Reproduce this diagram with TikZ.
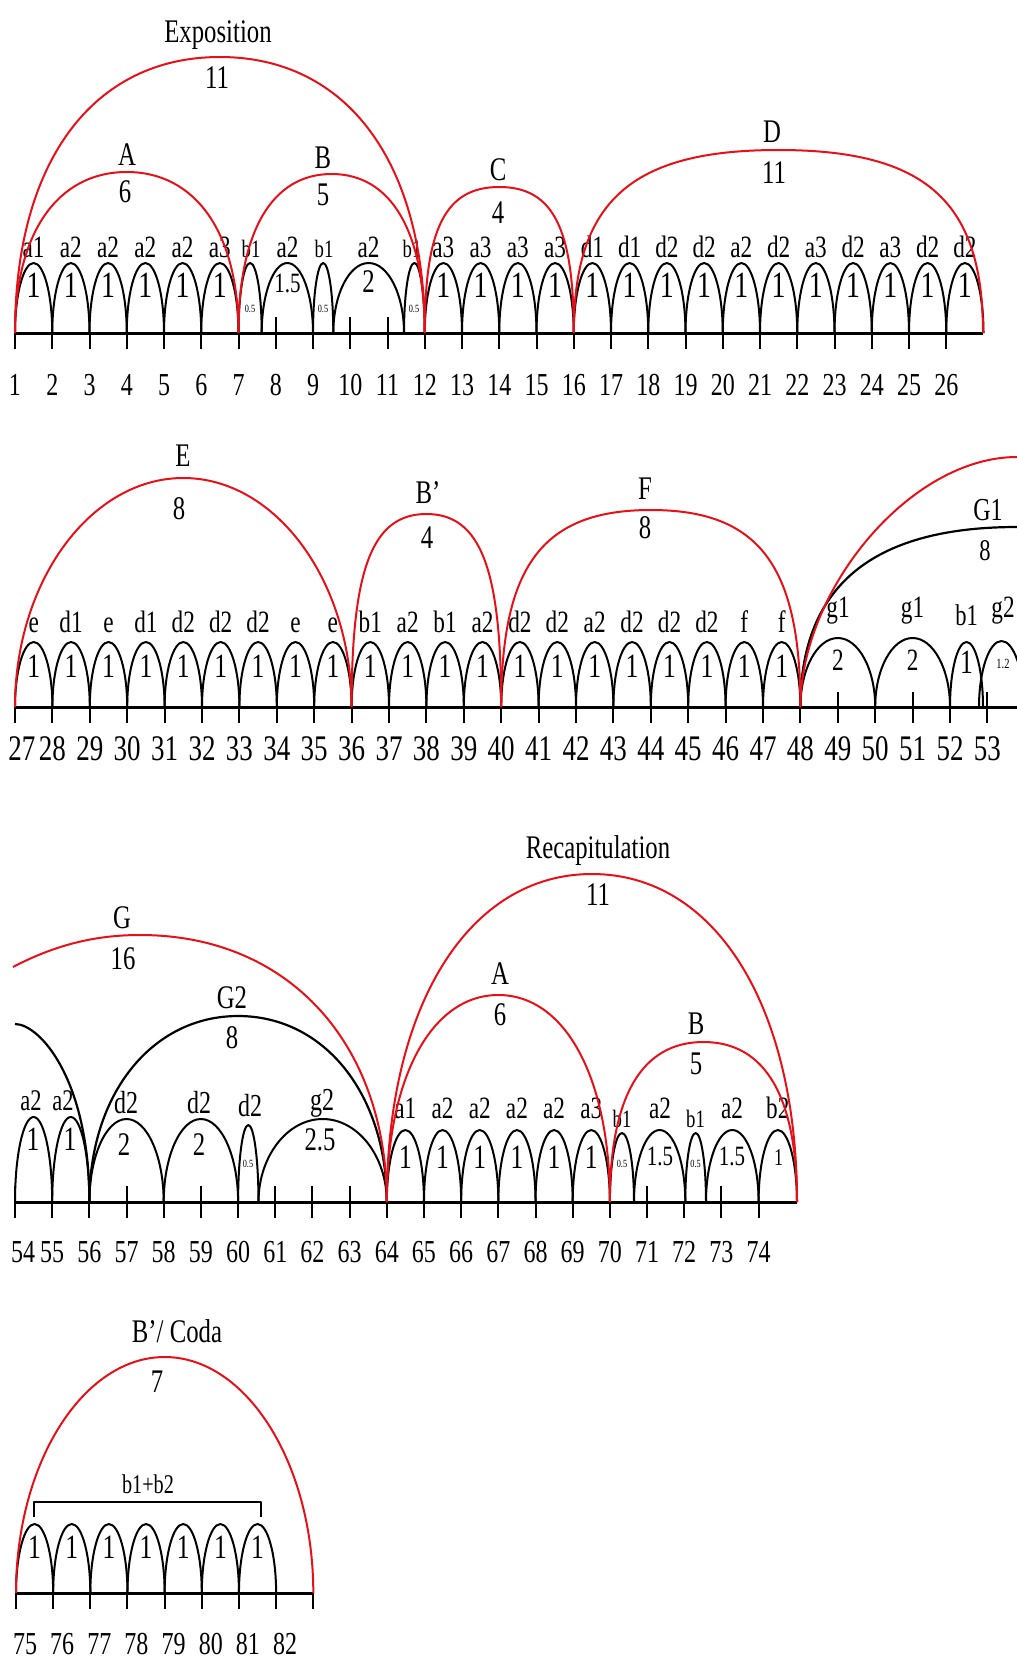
\documentclass[tikz,border=0pt]{standalone}
\usepackage{fontspec}
\setmainfont{Liberation Serif}[FakeStretch=0.75]
\definecolor{arcred}{RGB}{232,16,24}
% \hump[style]{x0}{x1}{base y}{height}{roundness}
\newcommand\hump[6][]{%
  \pgfmathsetmacro\hA{#2}%
  \pgfmathsetmacro\hB{#3}%
  \pgfmathsetmacro\hM{(\hA+\hB)/2}%
  \pgfmathsetmacro\hL{\hM-#6*(\hB-\hA)/2}%
  \pgfmathsetmacro\hR{\hM+#6*(\hB-\hA)/2}%
  \pgfmathsetmacro\hT{#4-#5}%
  \pgfmathsetmacro\hC{#4-#6*#5}%
  \draw[#1] (\hA,#4) .. controls (\hA,\hC) and (\hL,\hT) .. (\hM,\hT)
     .. controls (\hR,\hT) and (\hB,\hC) .. (\hB,#4);}
\begin{document}
\begin{tikzpicture}[x=1pt,y=-1pt,line join=round,
  barc/.style={line width=2pt},
  grp/.style={line width=2.2pt},
  sect/.style={arcred,line width=2pt},
  basel/.style={line width=3pt},
  tk/.style={line width=2pt},
  txt/.style={inner sep=0pt,anchor=base,font=\fontsize{#1}{#1}\selectfont},
  txt/.default=26]
\useasboundingbox (0,0) rectangle (1017,1660);
\begin{scope}
\clip (0,0) rectangle (1017,1660);

% ---------------- bars 1-27 ----------------
\foreach \i/\lab in {1/a1,2/a2,3/a2,4/a2,5/a2,6/a3,12/a3,13/a3,14/a3,15/a3,16/d1,17/d1,18/d2,19/d2,20/a2,21/d2,22/a3,23/d2,24/a3,25/d2,26/d2}{
  \hump[barc]{15+(\i-1)*37.25}{15+\i*37.25}{333}{70}{0.55}
  \node[txt=31] (ra\i) at ({15+(\i-0.5)*37.25},257) {\lab};
  \node[txt=37] (rb\i) at ({15+(\i-0.5)*37.25},297) {1};
}
\hump[barc]{238.5}{261.7}{333}{70}{0.55}
\hump[barc]{261.7}{313}{333}{70}{0.55}
\hump[barc]{313}{333.3}{333}{70}{0.55}
\hump[barc]{333.3}{404}{333}{70}{0.55}
\hump[barc]{404}{424.75}{333}{70}{0.55}
\node[txt=25] (rc1) at (251,257) {b1};
\node[txt=31] (rc2) at (287.5,257) {a2};
\node[txt=25] (rc3) at (324,257) {b1};
\node[txt=31] (rc4) at (368.5,257) {a2};
\node[txt=25] (rc5) at (412,257) {b1};
\node[txt=11] (rd1) at (250,312) {0.5};
\node[txt=28] (rd2) at (287.5,292) {1.5};
\node[txt=11] (rd3) at (323,312) {0.5};
\node[txt=33] (rd4) at (368.5,292) {2};
\node[txt=11] (rd5) at (414,312) {0.5};
\foreach \i in {1,...,26}{
  \draw[tk] ({15+(\i-1)*37.25},333) -- ++(0,16);
  \node[txt=32] (na\i) at ({15+(\i-1)*37.25},395) {\i};
}
\foreach \i in {8,10,11} \draw[tk] ({15+(\i-1)*37.25},317) -- ++(0,16);
\draw[basel] (15,333) -- (983,333);
\hump[sect]{15}{424.75}{333}{276}{0.62}
\hump[sect]{15}{238.5}{333}{161}{0.62}
\hump[sect]{238.5}{424.75}{333}{159}{0.64}
\hump[sect]{424.75}{573.75}{333}{146}{0.72}
\hump[sect]{573.75}{983}{333}{183}{0.72}
\node[txt=33] (expo) at (218,42.7) {Exposition};
\node[txt=33] (expon) at (217,88) {11};
\node[txt=33] (sa) at (127,165) {A};
\node[txt=33] (san) at (125,202) {6};
\node[txt=33] (sb) at (323,168) {B};
\node[txt=33] (sbn) at (323,205) {5};
\node[txt=33] (sc) at (498,180) {C};
\node[txt=33] (scn) at (498,223) {4};
\node[txt=33] (sd) at (772,142) {D};
\node[txt=33] (sdn) at (774,183) {11};

% ---------------- bars 27-53 ----------------
\foreach \i/\lab in {27/e,28/d1,29/e,30/d1,31/d2,32/d2,33/d2,34/e,35/e,36/b1,37/a2,38/b1,39/a2,40/d2,41/d2,42/a2,43/d2,44/d2,45/d2,46/f,47/f}{
  \hump[barc]{15+(\i-27)*37.4}{15+(\i-26)*37.4}{707}{65}{0.55}
  \node[txt=31] (ta\i) at ({15+(\i-26.5)*37.4},632) {\lab};
  \node[txt=34] (tb\i) at ({15+(\i-26.5)*37.4},677) {1};
}
\hump[barc]{800.4}{875.2}{707}{69}{0.55}
\hump[barc]{875.2}{950}{707}{69}{0.55}
\hump[barc]{950}{983}{707}{65}{0.55}
\hump[barc]{979}{1024}{707}{66}{0.55}
\node[txt=31] (tc1) at (838,617) {g1};
\node[txt=31] (tc2) at (912.6,617) {g1};
\node[txt=30] (tc3) at (966.5,625) {b1};
\node[txt=31] (tc4) at (1003,617) {g2};
\node[txt=31] (td1) at (838,670) {2};
\node[txt=31] (td2) at (912.6,670) {2};
\node[txt=34] (td3) at (966.5,673) {1};
\node[txt=14] (td4) at (1003,668) {1.2};
\foreach \i in {27,...,53}{
  \draw[tk] ({15+(\i-27)*37.4},707) -- ++(0,16);
}
\foreach \i in {28,...,53}{
  \node[txt=36] (nb\i) at ({15+(\i-27)*37.4},760) {\i};
}
\node[txt=36] (nb27) at (22,760) {27};
\foreach \i in {49,51,53} \draw[tk] ({15+(\i-27)*37.4},692) -- ++(0,15);
\draw[basel] (14,707) -- (1017,707);
\draw[grp] (800.4,707) .. controls (800.4,580) and (880,527) .. (1017,527);
\hump[sect]{15}{351.6}{707}{229}{0.55}
\hump[sect]{351.6}{501.2}{707}{193}{0.72}
\hump[sect]{501.2}{800.4}{707}{197}{0.72}
\draw[sect] (800.4,707) .. controls (800.4,590) and (910,457) .. (1017,457);
\node[txt=33] (se) at (183,466) {E};
\node[txt=33] (sen) at (179,519) {8};
\node[txt=33] (sbb) at (428,503) {B’};
\node[txt=33] (sbbn) at (427,548) {4};
\node[txt=33] (sf) at (645,499) {F};
\node[txt=33] (sfn) at (645,538) {8};
\node[txt=32] (sg1) at (988,520) {G1};
\node[txt=30] (sg1n) at (985,560) {8};

% ---------------- bars 54-75 ----------------
\hump[barc]{15}{52.2}{1202}{85}{0.55}
\hump[barc]{52.2}{89.4}{1202}{85}{0.55}
\hump[barc]{89.4}{163.7}{1202}{83}{0.55}
\hump[barc]{163.7}{238.1}{1202}{83}{0.55}
\hump[barc]{238.1}{258.5}{1202}{77}{0.55}
\hump[barc]{258.5}{386.8}{1202}{83}{0.55}
\node[txt=30] (ua1) at (31,1110) {a2};
\node[txt=30] (ua2) at (63,1110) {a2};
\node[txt=32] (ua3) at (126,1113) {d2};
\node[txt=32] (ua4) at (199,1113) {d2};
\node[txt=32] (ua5) at (250,1116) {d2};
\node[txt=32] (ua6) at (322,1110) {g2};
\node[txt=34] (ub1) at (33,1150) {1};
\node[txt=34] (ub2) at (70,1150) {1};
\node[txt=33] (ub3) at (124,1155) {2};
\node[txt=33] (ub4) at (199,1155) {2};
\node[txt=11] (ub5) at (248,1167) {0.5};
\node[txt=33] (ub6) at (320,1150) {2.5};
\foreach \i/\lab in {64/a1,65/a2,66/a2,67/a2,68/a2,69/a3}{
  \hump[barc]{15+(\i-54)*37.18}{15+(\i-53)*37.18}{1202}{72}{0.55}
  \node[txt=31] (uc\i) at ({15+(\i-53.5)*37.18},1118) {\lab};
  \node[txt=34] (ud\i) at ({15+(\i-53.5)*37.18},1168) {1};
}
\hump[barc]{609.9}{634}{1202}{69}{0.55}
\hump[barc]{634}{685.3}{1202}{72}{0.55}
\hump[barc]{685.3}{706}{1202}{69}{0.55}
\hump[barc]{706}{758.6}{1202}{72}{0.55}
\hump[barc]{758.6}{797}{1202}{72}{0.55}
\node[txt=25] (ue1) at (622,1127) {b1};
\node[txt=31] (ue2) at (660,1118) {a2};
\node[txt=25] (ue3) at (695.6,1127) {b1};
\node[txt=31] (ue4) at (732,1118) {a2};
\node[txt=31] (ue5) at (777.8,1118) {b2};
\node[txt=11] (uf1) at (622,1167) {0.5};
\node[txt=28] (uf2) at (660,1165) {1.5};
\node[txt=11] (uf3) at (695.6,1167) {0.5};
\node[txt=28] (uf4) at (732,1165) {1.5};
\node[txt=24] (uf5) at (778.5,1165) {1};
\foreach \i in {54,...,74}{
  \draw[tk] ({15+(\i-54)*37.18},1202) -- ++(0,16);
}
\foreach \i in {55,...,74}{
  \node[txt=32] (nc\i) at ({15+(\i-54)*37.18},1262) {\i};
}
\node[txt=32] (nc54) at (23,1262) {54};
\foreach \i in {54,57,59,61,62,63,71,73} \draw[tk] ({15+(\i-54)*37.18},1186) -- ++(0,16);
\draw[basel] (15,1202) -- (797,1202);
\draw[grp] (15,1024) .. controls (40,1024) and (89.4,1080) .. (89.4,1202);
\hump[grp]{89.4}{386.8}{1202}{186}{0.58}
\draw[sect] (13,967) .. controls (55,945) and (95,935) .. (140,935)
   .. controls (290,935) and (386.8,1045) .. (386.8,1202);
\hump[sect]{386.8}{797}{1202}{328}{0.6}
\hump[sect]{386.8}{609.9}{1202}{207}{0.6}
\hump[sect]{609.9}{797}{1202}{160}{0.66}
\node[txt=33] (sg) at (122,928) {G};
\node[txt=33] (sgn) at (123,969) {16};
\node[txt=33] (sg2) at (232,1008) {G2};
\node[txt=33] (sg2n) at (232,1048) {8};
\node[txt=33] (recap) at (598,858) {Recapitulation};
\node[txt=33] (recapn) at (598,905) {11};
\node[txt=33] (sa2) at (500,984) {A};
\node[txt=33] (sa2n) at (500,1025) {6};
\node[txt=33] (sb2) at (696,1034) {B};
\node[txt=33] (sb2n) at (696,1074) {5};

% ---------------- bars 75-83 ----------------
\foreach \i in {75,...,81}{
  \hump[barc]{16+(\i-75)*37.16}{16+(\i-74)*37.16}{1593}{69}{0.55}
  \node[txt=34] (va\i) at ({16+(\i-74.5)*37.16},1558) {1};
}
\foreach \i in {75,...,83}{
  \draw[tk] ({16+(\i-75)*37.16},1593) -- ++(0,16);
}
\foreach \i in {75,...,82}{
  \node[txt=32] (nd\i) at ({25+(\i-75)*37.16},1654) {\i};
}
\draw[basel] (16,1593) -- (313.3,1593);
\draw[line width=2pt] (34,1517) -- (34,1502) -- (261,1502) -- (261,1517);
\node[txt=27] (bb) at (148,1493) {b1+b2};
\hump[sect]{16}{313.3}{1593}{236}{0.55}
\node[txt=33] (coda) at (177,1342) {B’/ Coda};
\node[txt=33] (codan) at (157,1392) {7};
\end{scope}
\end{tikzpicture}
\end{document}
